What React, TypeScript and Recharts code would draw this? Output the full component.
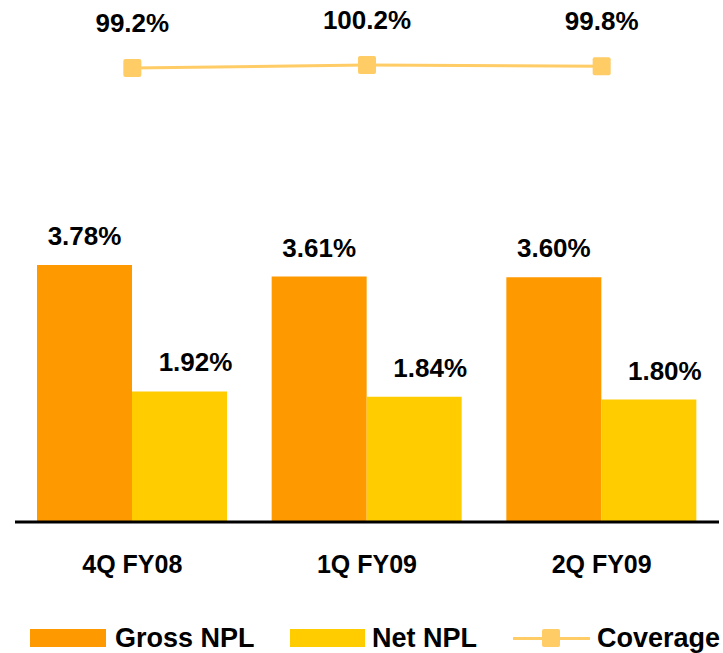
import React from "react";
import {
  Bar,
  ComposedChart,
  LabelList,
  Legend,
  Line,
  XAxis,
  YAxis,
} from "recharts";

const quarters = ["4Q FY08", "1Q FY09", "2Q FY09"];
const grossNpl = [3.78, 3.61, 3.6];
const netNpl = [1.92, 1.84, 1.8];
const coverage = [99.2, 100.2, 99.8];

const GROSS = "#FF9900";
const NET = "#FFCC00";
const COV = "#FFCC66";
const FONT = "'Liberation Sans', Arial, sans-serif";

const data = quarters.map((q, i) => ({
  quarter: q,
  gross: grossNpl[i],
  net: netNpl[i],
  coverage: coverage[i],
}));

const pct = (v: number) => v.toFixed(2) + "%";

const barLabel = (dx: number) => (props: any) => {
  const { x, y, width, value } = props;
  return (
    <text
      x={x + width / 2 + dx}
      y={y - 20}
      textAnchor="middle"
      fontFamily={FONT}
      fontWeight="bold"
      fontSize={26}
      fill="#000"
    >
      {pct(value)}
    </text>
  );
};

const lineLabel = (props: any) => {
  const { x, y, value } = props;
  return (
    <text
      x={x}
      y={y - 36}
      textAnchor="middle"
      fontFamily={FONT}
      fontWeight="bold"
      fontSize={26}
      fill="#000"
    >
      {value.toFixed(1) + "%"}
    </text>
  );
};

const squareDot = (props: any) => {
  const { cx, cy, index } = props;
  return (
    <rect
      key={"dot-" + index}
      x={cx - 9}
      y={cy - 9}
      width={18}
      height={18}
      rx={2}
      fill={COV}
    />
  );
};

const textStyle: React.CSSProperties = {
  position: "absolute",
  top: 0,
  fontFamily: FONT,
  fontWeight: "bold",
  fontSize: 27,
  lineHeight: "36px",
  color: "#000",
  whiteSpace: "nowrap",
};

function LegendBox() {
  return (
    <div style={{ position: "relative", width: 723, height: 36 }}>
      <div style={{ position: "absolute", left: 30, top: 9, width: 76, height: 18, background: GROSS }} />
      <div style={{ ...textStyle, left: 115 }}>Gross NPL</div>
      <div style={{ position: "absolute", left: 290, top: 9, width: 75, height: 18, background: NET }} />
      <div style={{ ...textStyle, left: 372 }}>Net NPL</div>
      <div style={{ position: "absolute", left: 513, top: 17, width: 77, height: 3, background: COV }} />
      <div style={{ position: "absolute", left: 542, top: 9, width: 18, height: 18, borderRadius: 2, background: COV }} />
      <div style={{ ...textStyle, left: 597 }}>Coverage</div>
    </div>
  );
}

export default function App() {
  return (
    <div
      style={{
        position: "absolute",
        left: 0,
        top: 0,
        width: 723,
        height: 653,
        overflow: "hidden",
        background: "#fff",
      }}
    >
      <ComposedChart
        width={723}
        height={653}
        data={data}
        margin={{ top: 0, right: 4, left: 15, bottom: 65 }}
        barGap={0}
      >
        <XAxis
          dataKey="quarter"
          height={30}
          axisLine={{ stroke: "#000", strokeWidth: 3 }}
          tickLine={false}
          tickSize={0}
          tickMargin={33}
          tick={{ fill: "#000", fontSize: 25, fontWeight: "bold", fontFamily: FONT }}
        />
        <YAxis yAxisId="npl" hide domain={[0, 7.676]} />
        <YAxis yAxisId="cov" hide domain={[-52.1, 121.9]} />
        <Legend
          verticalAlign="bottom"
          content={() => <LegendBox />}
          wrapperStyle={{ left: 0, top: 620, width: 723, height: 36 }}
        />
        <Bar yAxisId="npl" dataKey="gross" name="Gross NPL" fill={GROSS} barSize={95} isAnimationActive={false}>
          <LabelList dataKey="gross" content={barLabel(0)} />
        </Bar>
        <Bar yAxisId="npl" dataKey="net" name="Net NPL" fill={NET} barSize={95} isAnimationActive={false}>
          <LabelList dataKey="net" content={barLabel(16)} />
        </Bar>
        <Line
          yAxisId="cov"
          dataKey="coverage"
          name="Coverage"
          stroke={COV}
          strokeWidth={3}
          dot={squareDot}
          activeDot={false}
          isAnimationActive={false}
        >
          <LabelList dataKey="coverage" content={lineLabel} />
        </Line>
      </ComposedChart>
    </div>
  );
}
